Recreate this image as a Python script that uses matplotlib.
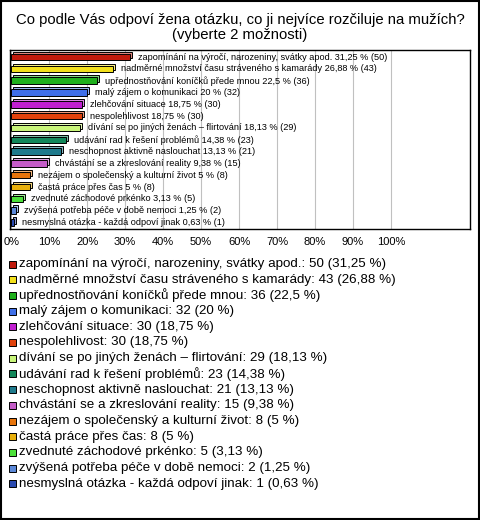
import matplotlib
matplotlib.use("Agg")
import matplotlib.pyplot as plt
import matplotlib.transforms as mtransforms
from matplotlib.patches import Rectangle

plt.rcParams['font.family'] = ['Liberation Sans', 'DejaVu Sans']

# data
odpovedi = [
    "zapomínání na výročí, narozeniny, svátky apod.",
    "nadměrné množství času stráveného s kamarády",
    "upřednostňování koníčků přede mnou",
    "malý zájem o komunikaci",
    "zlehčování situace",
    "nespolehlivost",
    "dívání se po jiných ženách – flirtování",
    "udávání rad k řešení problémů",
    "neschopnost aktivně naslouchat",
    "chvástání se a zkreslování reality",
    "nezájem o společenský a kulturní život",
    "častá práce přes čas",
    "zvednuté záchodové prkénko",
    "zvýšená potřeba péče v době nemoci",
    "nesmyslná otázka - každá odpoví jinak",
]
pocty = [50, 43, 36, 32, 30, 30, 29, 23, 21, 15, 8, 8, 5, 2, 1]
procenta = [31.25, 26.88, 22.5, 20, 18.75, 18.75, 18.13, 14.38, 13.13, 9.38, 5, 5, 3.13, 1.25, 0.63]
barvy = ["#c01a0c", "#f2e01c", "#1fb01c", "#3f6fe8", "#c01ed0", "#e0420c", "#c8f57a",
         "#12875a", "#1f7a8c", "#c45cc8", "#e8750c", "#e8b00c", "#4ce03a", "#5b88d8", "#2a4ab0"]
tick_hodnoty = list(range(0, 101, 10))


def fmt(p):
    return f"{p:g}".replace(".", ",")


def svetlejsi(c, k=0.45):
    r, g, b = matplotlib.colors.to_rgb(c)
    return (r + (1 - r) * k, g + (1 - g) * k, b + (1 - b) * k)


fig = plt.figure(figsize=(4.8, 5.2), dpi=100)
W, H = 480, 520

# ramecek kolem celeho obrazku
fig.patches.append(Rectangle((0.002, 0.002), 0.996, 0.996, transform=fig.transFigure,
                             fill=False, edgecolor="black", linewidth=1.5))

fig.text(0.5, 1 - 20 / H, "Co podle Vás odpoví žena otázku, co ji nejvíce rozčiluje na mužích?",
         ha="center", va="center", fontsize=10.7)
fig.text(0.5, 1 - 35 / H, "(vyberte 2 možnosti)", ha="center", va="center", fontsize=10.7)

ax = fig.add_axes([10 / W, 1 - 229 / H, 460 / W, 179 / H])
y = list(range(len(odpovedi)))

# "3D" hloubka sloupcu - posunuta kopie
posun = mtransforms.ScaledTranslation(2 / 100, 2 / 100, fig.dpi_scale_trans)
ax.barh(y, procenta, height=0.55, color=[svetlejsi(c) for c in barvy], edgecolor="black",
        linewidth=0.7, transform=ax.transData + posun, zorder=2)
ax.barh(y, procenta, height=0.55, color=barvy, edgecolor="black", linewidth=0.7, zorder=3)

for yi, p, n, t in zip(y, procenta, pocty, odpovedi):
    ax.text(p + 2.1, yi, f"{t} {fmt(p)} % ({n})", va="center", ha="left", fontsize=6.6, zorder=4)

ax.set_xlim(-0.3, 120.8)
ax.set_ylim(14.55, -0.6)
ax.set_xticks(tick_hodnoty)
ax.set_xticklabels([f"{v}%" for v in tick_hodnoty], fontsize=8)
ax.tick_params(axis="x", length=0, pad=6)
ax.set_yticks([])
ax.grid(axis="x", color="#c0c0c0", linewidth=0.8, zorder=0)
for s in ax.spines.values():
    s.set_linewidth(1.0)

# legenda
for i, (t, n, p, c) in enumerate(zip(odpovedi, pocty, procenta, barvy)):
    yy = 264 + i * 15.7
    fig.patches.append(Rectangle((9 / W, 1 - (yy + 3.5) / H), 7 / W, 7 / H, transform=fig.transFigure,
                                 facecolor=c, edgecolor="black", linewidth=0.7))
    fig.text(19 / W, 1 - yy / H, f"{t}: {n} ({fmt(p)} %)", ha="left", va="center", fontsize=9.6)

fig.savefig("out.png", dpi=100)
